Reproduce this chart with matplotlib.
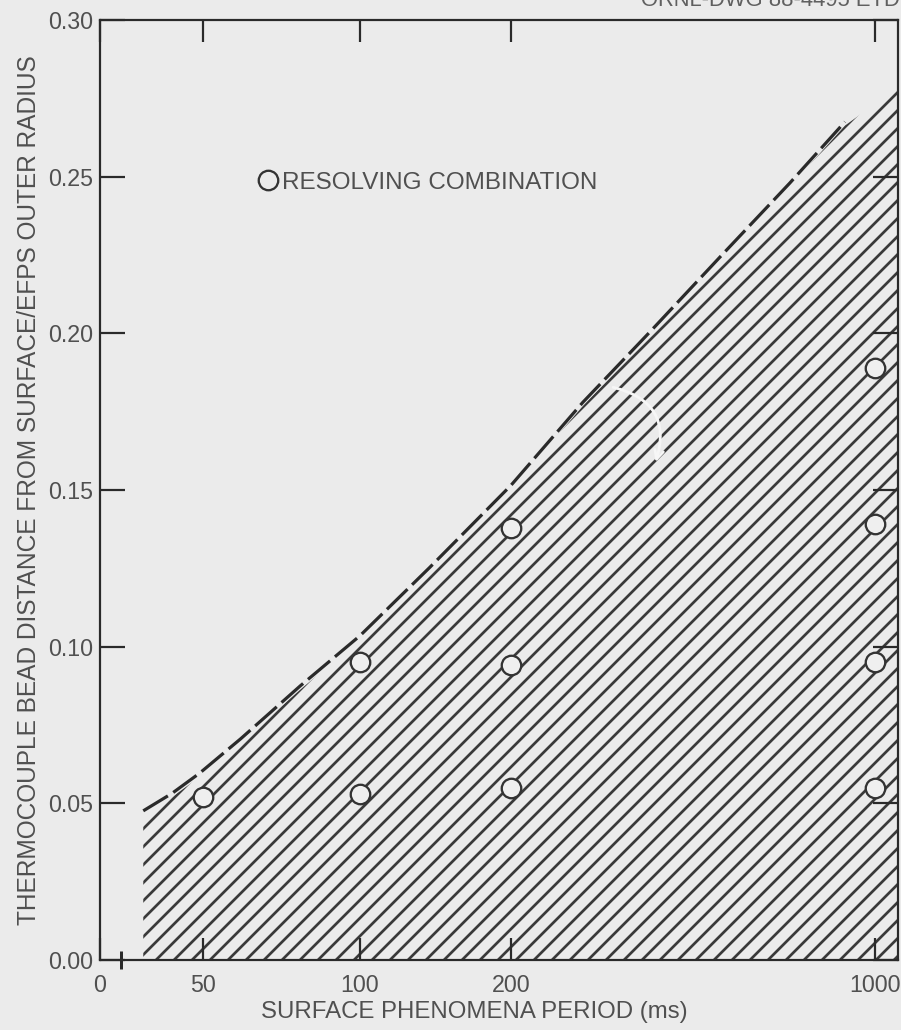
import numpy as np
import matplotlib
matplotlib.use("Agg")
import matplotlib.pyplot as plt
from matplotlib.lines import Line2D

# ---- data -------------------------------------------------------------
period_ticks = [0, 50, 100, 200, 1000]
period_tick_labels = ["0", "50", "100", "200", "1000"]
distance_ticks = [0.00, 0.05, 0.10, 0.15, 0.20, 0.25, 0.30]

# resolving combinations: surface period (ms) vs bead distance
res_period = [50, 100, 100, 200, 200, 200, 1000, 1000, 1000, 1000]
res_distance = [0.052, 0.053, 0.095, 0.055, 0.094, 0.138,
                0.055, 0.095, 0.139, 0.189]

# resolution limit (upper edge of the resolvable region)
limit_period = [21, 35, 48.5, 62, 81, 100, 146, 200, 358, 505, 659, 813, 934, 1050]
limit_distance = [0.0464, 0.0520, 0.0585, 0.0694, 0.0863, 0.1023, 0.124,
                  0.1503, 0.1768, 0.1992, 0.2231, 0.2468, 0.2663, 0.2785]
dashed_end_ms = 934

# arrow pointing into the resolvable region
arrow_tail = (418, 0.183)
arrow_head = (516, 0.158)

# ---- piecewise period axis -------------------------------------------
axis_knots_ms = np.array([0, 50, 100, 200, 1000, 2000], dtype=float)
axis_knots_pos = np.array([0, 103, 260, 411, 775, 1230], dtype=float)


def fwd(x):
    return np.interp(x, axis_knots_ms, axis_knots_pos)


def inv(p):
    return np.interp(p, axis_knots_pos, axis_knots_ms)


# ---- style ------------------------------------------------------------
DPI = 108


def P(px):
    """pixels -> points at the output resolution"""
    return px * 72.0 / DPI


BG = "#ebebeb"
INK = "#2a2a2a"
TXT = "#505050"
plt.rcParams["font.family"] = ["Liberation Sans", "DejaVu Sans"]
plt.rcParams["hatch.linewidth"] = P(2.7)
plt.rcParams["hatch.color"] = "#3a3a3a"

fig = plt.figure(figsize=(901 / DPI, 1030 / DPI), dpi=DPI, facecolor=BG)
ax = fig.add_axes([100 / 901, 70 / 1030, 797.75 / 901, 940 / 1030])
ax.set_facecolor(BG)
ax.set_xscale("function", functions=(fwd, inv))
ax.set_xlim(0, 1050)
ax.set_ylim(0, 0.30)

# hatched resolvable region
ax.fill_between(limit_period, 0, limit_distance, facecolor="none",
                edgecolor="#3a3a3a", hatch="//", linewidth=0, zorder=1)

# dashed limit curve
lp = np.array(limit_period)
ld = np.array(limit_distance)
keep = lp <= dashed_end_ms
ax.plot(lp[keep], ld[keep] + 0.0012, color=INK, lw=P(3.2),
        linestyle=(0, (9, 2)), zorder=3, solid_capstyle="butt")

# resolving combinations
ax.plot(res_period, res_distance, linestyle="none", marker="o", ms=P(19.5),
        mfc="#efefef", mec="#333333", mew=P(2.3), zorder=4)

# white arrow inside the region
ax.annotate("", xy=arrow_head, xytext=arrow_tail,
            arrowprops=dict(arrowstyle="->", color="#f6f6f6", lw=P(2.8),
                            mutation_scale=P(22),
                            connectionstyle="arc3,rad=-0.55"), zorder=5)

# legend
handle = Line2D([], [], linestyle="none", marker="o", ms=P(19.5),
                mfc=BG, mec="#333333", mew=P(2.3))
ax.legend([handle], ["RESOLVING COMBINATION"], loc="center left",
          bbox_to_anchor=(0.1957, 0.8266), frameon=False, fontsize=P(24.3),
          handlelength=0.95, handletextpad=0.1, borderpad=0,
          borderaxespad=0, labelcolor=TXT)

# ticks
ax.set_xticks(period_ticks)
ax.set_xticklabels(period_tick_labels)
ax.set_xticks([10], minor=True)
ax.set_yticks(distance_ticks)
ax.set_yticklabels([f"{v:.2f}" for v in distance_ticks])
ax.tick_params(axis="both", which="major", direction="in", top=True,
               right=True, color=INK, width=P(2.2), labelsize=P(23.3),
               labelcolor=TXT)
ax.tick_params(axis="y", which="major", length=P(25), pad=P(7))
ax.tick_params(axis="x", which="major", length=P(22), pad=P(14))
ax.tick_params(axis="x", which="minor", direction="inout", length=P(18),
               width=P(3), color=INK, top=False)

for s in ax.spines.values():
    s.set_color(INK)
    s.set_linewidth(P(2.2))

ax.set_xlabel("SURFACE PHENOMENA PERIOD (ms)", fontsize=P(24),
              color=TXT, labelpad=P(4), x=0.469)
ax.set_ylabel("THERMOCOUPLE BEAD DISTANCE FROM SURFACE/EFPS OUTER RADIUS",
              fontsize=P(24.5), color=TXT, labelpad=P(7))

fig.text(0.999, 1 - 6 / 1030, "ORNL-DWG 88-4495 ETD", ha="right",
         va="baseline", fontsize=P(22), color="#606060")

fig.savefig("out.png", dpi=DPI, facecolor=BG)
